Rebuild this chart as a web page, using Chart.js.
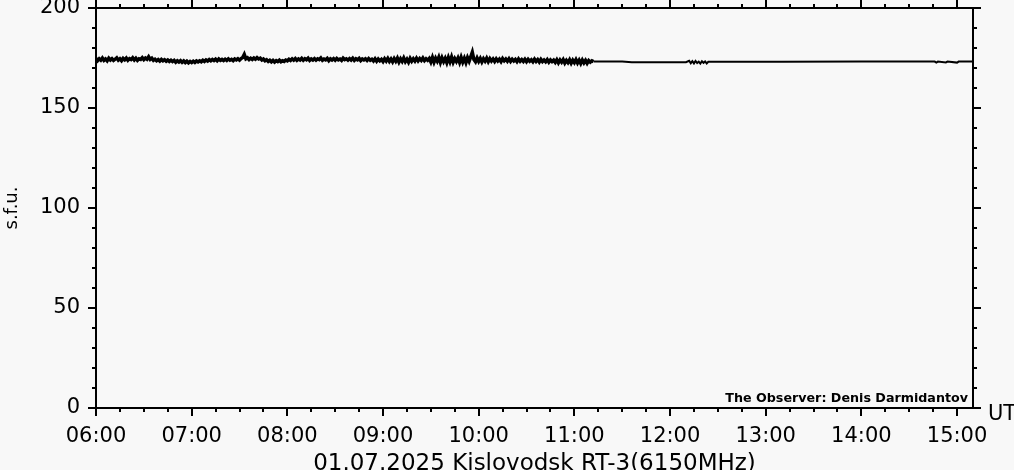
<!DOCTYPE html>
<html lang="en">
<head>
<meta charset="UTF-8">
<title>Kislovodsk RT-3 6150MHz</title>
<script src="https://cdn.jsdelivr.net/npm/chart.js"></script>
<style>
  body { margin: 0; background: #f8f8f8; }
  #wrap { width: 1014px; height: 470px; }
</style>
</head>
<body>
<div id="wrap"><canvas id="fluxChart" width="1014" height="470"></canvas></div>
<script>
// x values are minutes after 06:00 UT
const hourLabels = ['06:00', '07:00', '08:00', '09:00', '10:00', '11:00', '12:00', '13:00', '14:00', '15:00'];

// one reading per minute from 06:00 to 11:12 (noisy part)
const denseStart = 0;
const denseFlux = [
  174.8, 173.7, 174.6, 173.9, 175.0, 173.8, 174.5, 173.6, 174.9, 174.0,
  174.7, 173.8, 174.4, 175.1, 173.9, 174.6, 173.7, 174.8, 174.1, 175.0,
  173.9, 174.7, 174.2, 175.1, 174.0, 174.9, 173.8, 174.6, 174.3, 175.2,
  174.2, 175.0, 174.4, 175.6, 174.3, 174.9, 173.8, 174.4, 173.6, 174.2,
  173.5, 174.3, 173.6, 174.1, 173.4, 174.0, 173.3, 173.9, 173.2, 173.8,
  172.9, 173.6, 173.0, 173.7, 172.8, 173.5, 172.7, 173.4, 172.6, 173.3,
  172.7, 173.4, 172.8, 173.5, 173.0, 173.6, 173.1, 173.9, 173.3, 174.0,
  173.5, 174.2, 173.6, 174.3, 173.7, 174.4, 173.6, 174.5, 173.8, 174.3,
  173.7, 174.4, 173.8, 174.6, 173.9, 174.3, 173.7, 174.5, 174.0, 174.6,
  173.9, 174.7, 175.2, 176.8, 174.6, 175.1, 174.2, 174.9, 174.3, 175.0,
  174.4, 175.2, 174.5, 174.9, 174.0, 174.5, 173.6, 174.1, 173.3, 173.9,
  173.1, 173.8, 173.0, 173.7, 173.2, 173.9, 173.1, 173.6, 173.3, 174.0,
  173.6, 174.4, 173.8, 174.6, 173.9, 174.7, 173.8, 174.5, 174.0, 174.8,
  173.9, 174.6, 174.1, 174.9, 173.8, 174.5, 174.0, 174.7, 173.9, 174.6,
  174.2, 175.0, 173.9, 174.5, 174.1, 174.8, 173.7, 174.6, 174.0, 174.7,
  173.9, 174.8, 174.1, 174.5, 173.8, 174.9, 174.2, 174.6, 173.9, 174.7,
  174.0, 174.9, 173.8, 174.6, 174.1, 174.8, 173.7, 174.5, 174.0, 174.6,
  173.8, 174.7, 173.9, 174.4, 173.5, 174.6, 173.4, 174.5, 173.6, 174.3,
  173.2, 174.6, 173.5, 174.8, 173.3, 174.5, 173.1, 174.7, 173.4, 174.9,
  173.0, 174.6, 173.3, 175.0, 173.2, 174.4, 172.9, 174.8, 173.4, 174.6,
  173.5, 174.9, 173.6, 174.7, 173.8, 175.0, 173.7, 174.6, 173.9, 174.8,
  173.0, 175.3, 172.9, 174.9, 173.4, 175.4, 172.8, 175.1, 173.2, 174.8,
  172.7, 175.2, 173.1, 175.5, 172.9, 174.7, 173.3, 175.0, 172.8, 175.3,
  173.0, 174.9, 172.7, 175.2, 173.4, 175.6, 177.9, 174.2, 173.1, 175.0,
  173.3, 174.8, 173.0, 174.6, 173.4, 174.9, 173.2, 174.7, 173.5, 174.5,
  173.3, 174.6, 173.5, 174.4, 173.2, 174.7, 173.6, 174.5, 173.4, 174.6,
  173.3, 174.4, 173.5, 174.3, 173.2, 174.5, 173.4, 174.2, 173.3, 174.4,
  173.2, 174.3, 173.4, 174.1, 173.1, 174.4, 173.3, 174.2, 173.0, 174.3,
  173.2, 174.0, 173.1, 174.2, 172.9, 174.0, 173.2, 173.9, 172.8, 174.1,
  172.6, 174.0, 172.9, 174.2, 172.5, 173.8, 172.7, 174.1, 172.4, 173.9,
  172.7, 174.2, 172.5, 173.9, 172.3, 174.0, 172.6, 173.8, 172.4, 173.7,
  172.9, 173.6, 173.2
];

// sparse readings after 11:12 (quiet part)
const tailMinutes = [312, 313, 330, 336, 370, 372, 373, 374, 375, 376, 377, 378, 379, 380, 381, 382, 383, 384, 386, 430, 480, 526, 527, 528, 533, 534, 540, 541, 550];
const tailFlux    = [173.2, 173.3, 173.2, 172.9, 172.9, 173.6, 172.4, 173.4, 172.3, 173.5, 172.5, 173.2, 172.2, 173.4, 172.6, 173.3, 172.3, 173.1, 173.1, 173.1, 173.2, 173.2, 172.7, 173.2, 172.8, 173.2, 172.7, 173.2, 173.2];

const chartTitle = '01.07.2025 Kislovodsk RT-3(6150MHz)';
const observerText = 'The Observer: Denis Darmidantov';
const axisFont = 'DejaVu Sans';

const densePoints = denseFlux.map((v, i) => ({ x: denseStart + i, y: v }));
const tailPoints = tailMinutes.map((m, i) => ({ x: m, y: tailFlux[i] }));

// background, frame, outer tick marks and the loose labels
const framePlugin = {
  id: 'frame',
  beforeDraw(chart) {
    const ctx = chart.ctx;
    ctx.save();
    ctx.fillStyle = '#f8f8f8';
    ctx.fillRect(0, 0, chart.width, chart.height);
    ctx.restore();
  },
  afterDraw(chart) {
    const { ctx, chartArea: a, scales: { x, y } } = chart;
    ctx.save();
    ctx.strokeStyle = '#000';
    ctx.lineWidth = 2;
    ctx.strokeRect(a.left, a.top, a.right - a.left, a.bottom - a.top);
    ctx.beginPath();
    for (let m = x.min; m <= x.max; m += 15) {
      const px = Math.round(x.getPixelForValue(m));
      const len = m % 60 === 0 ? 8 : 4;
      ctx.moveTo(px, a.bottom); ctx.lineTo(px, a.bottom + len);
      ctx.moveTo(px, a.top); ctx.lineTo(px, a.top - len);
    }
    for (let v = y.min; v <= y.max; v += 10) {
      const py = Math.round(y.getPixelForValue(v));
      const len = v % 50 === 0 ? 8 : 4;
      ctx.moveTo(a.left, py); ctx.lineTo(a.left - len, py);
      ctx.moveTo(a.right, py); ctx.lineTo(a.right + len, py);
    }
    ctx.stroke();

    ctx.fillStyle = '#000';
    ctx.textBaseline = 'alphabetic';
    ctx.font = '21px "' + axisFont + '"';
    ctx.textAlign = 'left';
    ctx.fillText('UT', a.right + 15, a.bottom + 12);
    ctx.font = 'bold 12.7px "' + axisFont + '"';
    ctx.textAlign = 'right';
    ctx.fillText(observerText, a.right - 5, a.bottom - 6);
    ctx.restore();
  }
};

new Chart(document.getElementById('fluxChart'), {
  type: 'line',
  data: {
    datasets: [{
      data: densePoints,
      borderColor: '#000',
      borderWidth: 3.5,
      pointRadius: 0,
      tension: 0,
      fill: false
    }, {
      data: tailPoints,
      borderColor: '#000',
      borderWidth: 2,
      pointRadius: 0,
      tension: 0,
      fill: false
    }]
  },
  options: {
    responsive: false,
    animation: false,
    layout: { padding: { top: 8, right: 41, bottom: 0, left: 0 } },
    plugins: {
      legend: { display: false },
      tooltip: { enabled: false }
    },
    scales: {
      x: {
        type: 'linear',
        min: 0,
        max: 550,
        grid: { display: false, drawTicks: false },
        border: { display: false },
        ticks: {
          stepSize: 60,
          includeBounds: false,
          maxRotation: 0,
          autoSkip: false,
          padding: 16,
          color: '#000',
          font: { family: axisFont, size: 21 },
          callback: (v) => (v % 60 === 0 ? hourLabels[v / 60] : '')
        },
        title: {
          display: true,
          text: chartTitle,
          color: '#000',
          font: { family: axisFont, size: 23 },
          padding: { top: 0, bottom: -8 }
        },
        afterFit(scale) {
          scale.height = 62;
          scale.paddingLeft = 0;
          scale.paddingRight = 0;
        }
      },
      y: {
        min: 0,
        max: 200,
        grid: { display: false, drawTicks: false },
        border: { display: false },
        ticks: {
          stepSize: 50,
          padding: 16,
          color: '#000',
          font: { family: axisFont, size: 21 }
        },
        title: {
          display: true,
          text: 's.f.u.',
          color: '#000',
          font: { family: axisFont, size: 18 },
          padding: { top: 2, bottom: 0 }
        },
        afterFit(scale) {
          scale.width = 96;
          scale.paddingTop = 0;
          scale.paddingBottom = 0;
        }
      }
    }
  },
  plugins: [framePlugin]
});
</script>
</body>
</html>
